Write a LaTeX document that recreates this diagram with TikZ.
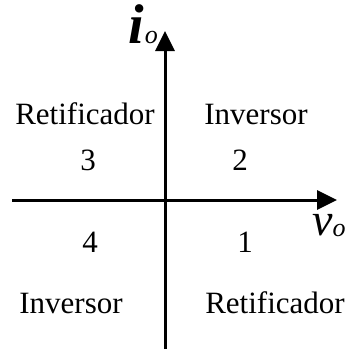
\documentclass[tikz,border=0pt]{standalone}
\usepackage{fontspec}
\setmainfont{Liberation Serif}
\usetikzlibrary{arrows.meta}

\tikzset{
    axis/.style={line width=3pt, -{Triangle[length=20pt,width=19pt]}},
    quad/.style={font=\fontsize{31}{31}\selectfont, inner sep=0pt, anchor=base},
}

\begin{document}
\begin{tikzpicture}[x=1pt, y=-1pt]
        \useasboundingbox (0,0) rectangle (350,349);

        \coordinate (left) at (12,200);
        \coordinate (right) at (337,200);
        \coordinate (bottom) at (165,349);
        \coordinate (top) at (165,31);

        \draw[axis] (left) -- (right);
        \draw[axis] (bottom) -- (top);

        \node[anchor=base east, inner sep=0pt] (io) at (158,43)
            {\fontsize{56}{56}\selectfont\textit{\textbf{i}}\hspace{1pt}{\fontsize{26}{26}\selectfont\textit{o}}};
        \node[anchor=base west, inner sep=0pt] (vo) at (312,235)
            {\fontsize{46}{46}\selectfont\textit{v}\raisebox{-1pt}{\fontsize{26}{26}\selectfont\textit{o}}};

        \node[quad] (ret3) at (85,124) {Retificador};
        \node[quad] (inv2) at (256,124) {Inversor};
        \node[quad] (n3) at (88,170) {3};
        \node[quad] (n2) at (240,170) {2};
        \node[quad] (n4) at (90,252) {4};
        \node[quad] (n1) at (245,252) {1};
        \node[quad] (inv4) at (71,313) {Inversor};
        \node[quad] (ret1) at (275,313) {Retificador};
\end{tikzpicture}
\end{document}
